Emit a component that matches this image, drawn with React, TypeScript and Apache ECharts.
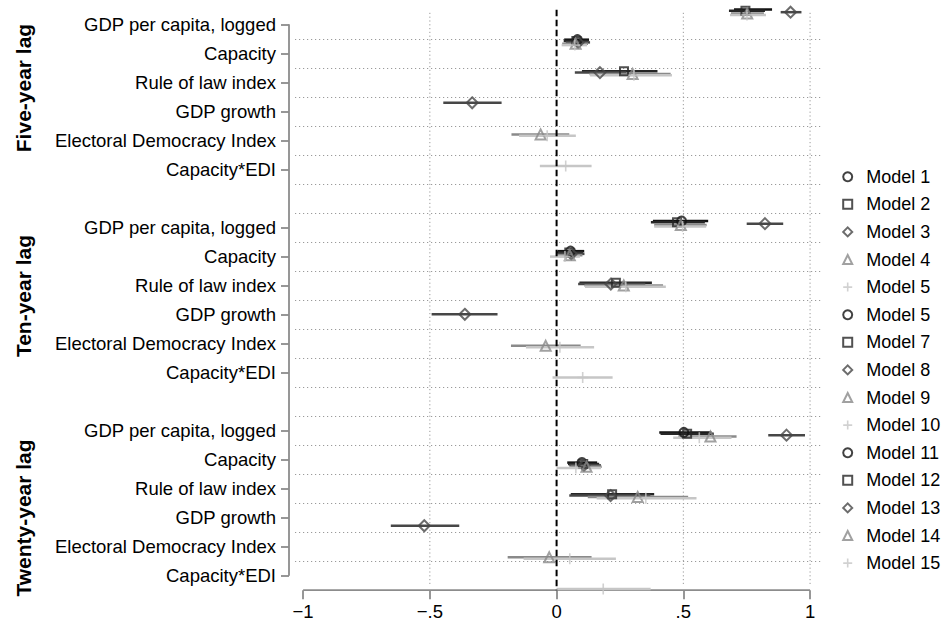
import React, { useEffect, useRef } from 'react';
import * as echarts from 'echarts';

// ---------- Data ----------
const variables = [
  'GDP per capita, logged',
  'Capacity',
  'Rule of law index',
  'GDP growth',
  'Electoral Democracy Index',
  'Capacity*EDI',
];
const panelTitles = ['Five-year lag', 'Ten-year lag', 'Twenty-year lag'];
const xTickValues = [-1, -0.5, 0, 0.5, 1];
const xTickLabels = ['\u22121', '\u2212.5', '0', '.5', '1'];
const xGridValues = [-0.5, 0.5, 1];
const legendLabels = [
  'Model 1', 'Model 2', 'Model 3', 'Model 4', 'Model 5',
  'Model 5', 'Model 7', 'Model 8', 'Model 9', 'Model 10',
  'Model 11', 'Model 12', 'Model 13', 'Model 14', 'Model 15',
];

// [estimate, lower, upper] per variable (order of `variables`); null = not in model
// Five-year lag
const model1 = [[0.782, 0.700, 0.850], [0.082, 0.030, 0.128], null, null, null, null];
const model2 = [[0.745, 0.680, 0.822], [0.078, 0.028, 0.126], [0.266, 0.100, 0.398], null, null, null];
const model3 = [[0.923, 0.884, 0.966], [0.085, 0.036, 0.132], [0.171, 0.072, 0.275], [-0.333, -0.447, -0.217], null, null];
const model4 = [[0.752, 0.688, 0.818], [0.075, 0.022, 0.124], [0.300, 0.130, 0.450], null, [-0.063, -0.178, 0.050], null];
const model5 = [[0.751, 0.684, 0.826], [0.072, 0.020, 0.120], [0.305, 0.132, 0.455], null, [-0.037, -0.148, 0.076], [0.036, -0.066, 0.138]];
// Ten-year lag
const model6 = [[0.493, 0.380, 0.598], [0.055, 0.004, 0.109], null, null, null, null];
const model7 = [[0.475, 0.372, 0.585], [0.050, 0.000, 0.104], [0.234, 0.090, 0.376], null, null, null];
const model8 = [[0.822, 0.750, 0.894], [0.058, 0.006, 0.110], [0.214, 0.085, 0.350], [-0.362, -0.493, -0.233], null, null];
const model9 = [[0.490, 0.385, 0.592], [0.052, 0.000, 0.102], [0.265, 0.110, 0.420], null, [-0.043, -0.180, 0.095], null];
const model10 = [[0.497, 0.385, 0.590], [0.033, -0.026, 0.092], [0.273, 0.112, 0.431], null, [0.013, -0.121, 0.148], [0.103, -0.016, 0.221]];
// Twenty-year lag
const model11 = [[0.502, 0.405, 0.611], [0.100, 0.042, 0.160], null, null, null, null];
const model12 = [[0.515, 0.410, 0.620], [0.105, 0.045, 0.168], [0.219, 0.056, 0.385], null, null, null];
const model13 = [[0.907, 0.835, 0.980], [0.108, 0.050, 0.175], [0.213, 0.050, 0.370], [-0.522, -0.654, -0.384], null, null];
const model14 = [[0.607, 0.480, 0.710], [0.118, 0.055, 0.178], [0.320, 0.123, 0.519], null, [-0.029, -0.193, 0.138], null];
const model15 = [[0.563, 0.460, 0.690], [0.076, 0.000, 0.175], [0.352, 0.158, 0.552], null, [0.052, -0.130, 0.234], [0.184, 0.000, 0.371]];

const models = [
  model1, model2, model3, model4, model5,
  model6, model7, model8, model9, model10,
  model11, model12, model13, model14, model15,
];

// ---------- Styling ----------
const FONT = '"Liberation Sans", Arial, Helvetica, sans-serif';
const PLUS = 'path://M5,0L5,10M0,5L10,5';
const markerSymbols = ['circle', 'rect', 'diamond', 'triangle', PLUS];
const markerSizes = [9, 8, 11, 10, 11];
const markerColors = ['#111111', '#262626', '#474747', '#8a8a8a', '#c6c6c6'];
const AXIS_GRAY = '#8c8c8c';

// category axis rows: 3 panels of 6 rows separated by blank rows
const categoryRows: string[] = [];
panelTitles.forEach((_, i) => {
  variables.forEach((v) => categoryRows.push(v));
  if (i < panelTitles.length - 1) categoryRows.push('');
});

function buildOption() {
  const series: any[] = [];

  // frame: axis lines and vertical grid lines (below data)
  series.push({
    type: 'custom',
    name: 'frame',
    xAxisIndex: 0,
    yAxisIndex: 0,
    z: 1,
    silent: true,
    data: [[0, 0]],
    renderItem: (params: any, api: any) => {
      const cs = params.coordSys;
      const gridBottom = cs.y + cs.height;
      const firstRow = api.coord([0, 0])[1];
      const lastRow = api.coord([0, categoryRows.length - 1])[1];
      const xL = api.coord([xTickValues[0], 0])[0];
      const xR = api.coord([xTickValues[xTickValues.length - 1], 0])[0];
      const children: any[] = [];
      xGridValues.forEach((v) => {
        const x = api.coord([v, 0])[0];
        children.push({
          type: 'line',
          shape: { x1: x, y1: cs.y + 3, x2: x, y2: gridBottom - 5 },
          style: { stroke: '#9a9a9a', lineWidth: 1, lineDash: [1.2, 2.6] },
        });
      });
      children.push({
        type: 'line',
        shape: { x1: cs.x - 6, y1: firstRow, x2: cs.x - 6, y2: lastRow },
        style: { stroke: AXIS_GRAY, lineWidth: 1.8 },
      });
      children.push({
        type: 'line',
        shape: { x1: xL, y1: gridBottom, x2: xR, y2: gridBottom },
        style: { stroke: AXIS_GRAY, lineWidth: 1.8 },
      });
      return { type: 'group', children };
    },
  });

  models.forEach((model, m) => {
    const panel = Math.floor(m / 5);
    const k = m % 5;
    const offset = (k - 2) * 0.045;
    const ciData: any[] = [];
    const ptData: any[] = [];
    model.forEach((row, vi) => {
      if (!row) return;
      const pos = panel * 7 + vi + offset;
      ciData.push([row[1], row[2], pos]);
      ptData.push([row[0], pos]);
    });
    const color = markerColors[k];
    series.push({
      type: 'custom',
      name: 'ci' + (m + 1),
      xAxisIndex: 0,
      yAxisIndex: 1,
      z: 2,
      silent: true,
      data: ciData,
      encode: { x: [0, 1], y: 2 },
      renderItem: (params: any, api: any) => {
        const a = api.coord([api.value(0), api.value(2)]);
        const b = api.coord([api.value(1), api.value(2)]);
        return {
          type: 'line',
          shape: { x1: a[0], y1: a[1], x2: b[0], y2: b[1] },
          style: { stroke: color, lineWidth: 2.5 },
        };
      },
    });
    series.push({
      type: 'scatter',
      name: 'Model ' + (m + 1),
      xAxisIndex: 0,
      yAxisIndex: 1,
      z: 3,
      silent: true,
      symbol: markerSymbols[k],
      symbolSize: markerSizes[k],
      itemStyle: {
        color: 'rgba(255,255,255,0)',
        borderColor: color,
        borderWidth: k === 4 ? 1.6 : 2,
      },
      data: ptData,
    });
  });

  // zero reference line (on top)
  series.push({
    type: 'custom',
    name: 'zero',
    xAxisIndex: 0,
    yAxisIndex: 0,
    z: 10,
    silent: true,
    data: [[0, 0]],
    renderItem: (params: any, api: any) => {
      const cs = params.coordSys;
      const x = api.coord([0, 0])[0];
      return {
        type: 'line',
        shape: { x1: x, y1: cs.y, x2: x, y2: cs.y + cs.height },
        style: { stroke: '#000', lineWidth: 2, lineDash: [6.5, 3.5] },
      };
    },
  });

  const titleY = [88, 296, 518];

  return {
    animation: false,
    backgroundColor: '#ffffff',
    textStyle: { fontFamily: FONT },
    grid: {
      left: 295,
      top: 9.8,
      width: 528,
      height: 580.4,
      containLabel: false,
      outerBoundsMode: 'none',
    },
    xAxis: {
      type: 'value',
      min: -1.032,
      max: 1.051,
      position: 'bottom',
      axisLine: { show: false, onZero: false },
      splitLine: { show: false },
      axisTick: {
        show: true,
        customValues: xTickValues,
        length: 9,
        lineStyle: { color: AXIS_GRAY, width: 1.8 },
      },
      axisLabel: {
        customValues: xTickValues,
        formatter: (v: number) => {
          const i = xTickValues.indexOf(v);
          return i >= 0 ? xTickLabels[i] : '';
        },
        margin: 12,
        fontSize: 18.5,
        color: '#000',
        fontFamily: FONT,
      },
    },
    yAxis: [
      {
        type: 'category',
        data: categoryRows,
        inverse: true,
        boundaryGap: true,
        position: 'left',
        offset: 6,
        axisLine: { show: false, onZero: false },
        axisTick: {
          show: true,
          alignWithLabel: true,
          interval: (index: number) => categoryRows[index] !== '',
          length: 8,
          lineStyle: { color: AXIS_GRAY, width: 1.8 },
        },
        axisLabel: {
          interval: 0,
          margin: 13,
          fontSize: 18.5,
          color: '#000',
          fontFamily: FONT,
        },
        splitLine: {
          show: true,
          interval: 0,
          showMinLine: false,
          showMaxLine: false,
          lineStyle: { color: '#9a9a9a', width: 1, type: [1.2, 2.8] },
        },
      },
      {
        type: 'value',
        inverse: true,
        min: -0.079,
        max: 19.133,
        show: false,
        axisLine: { onZero: false },
        splitLine: { show: false },
      },
    ],
    legend: {
      orient: 'vertical',
      left: 842.2,
      top: 167.7,
      padding: 0,
      itemWidth: 9,
      itemHeight: 9,
      itemGap: 9.6,
      selectedMode: false,
      textStyle: {
        fontSize: 18,
        lineHeight: 18,
        color: '#000',
        fontFamily: FONT,
        padding: [0, 0, 0, 9],
      },
      formatter: (name: string) => {
        const i = parseInt(name.replace('Model ', ''), 10) - 1;
        return legendLabels[i];
      },
      data: models.map((_, m) => ({
        name: 'Model ' + (m + 1),
        icon: markerSymbols[m % 5],
        itemStyle: {
          color: 'rgba(255,255,255,0)',
          borderColor: markerColors[m % 5],
          borderWidth: m % 5 === 4 ? 1.6 : 2,
        },
      })),
    },
    graphic: panelTitles.map((t, i) => ({
      type: 'text',
      x: 23,
      y: titleY[i],
      rotation: Math.PI / 2,
      style: {
        text: t,
        fontSize: 21,
        fontWeight: 'bold',
        fontFamily: FONT,
        fill: '#000',
        align: 'center',
        verticalAlign: 'middle',
      },
    })),
    series,
  };
}

export default function App() {
  const ref = useRef<HTMLDivElement>(null);
  useEffect(() => {
    if (!ref.current) return;
    const chart = echarts.init(ref.current, undefined, { renderer: 'svg' });
    chart.setOption(buildOption() as any);
    return () => chart.dispose();
  }, []);
  return (
    <div
      ref={ref}
      style={{ position: 'absolute', left: 0, top: 0, width: 944, height: 622, background: '#fff' }}
    />
  );
}
